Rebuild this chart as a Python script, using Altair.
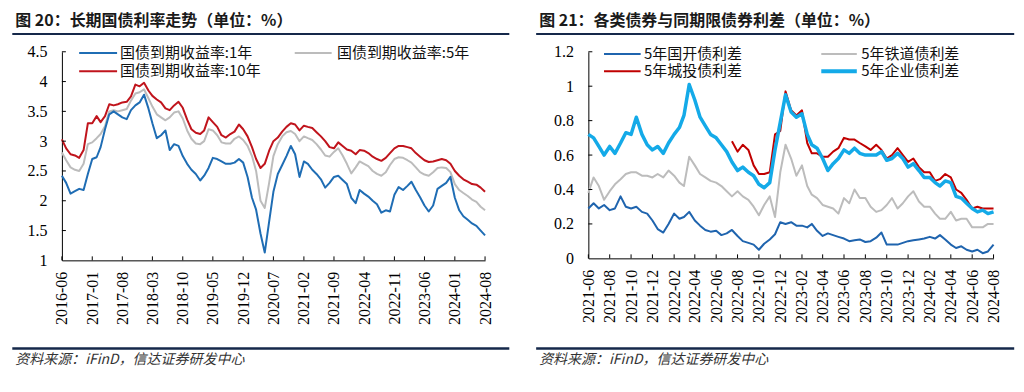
import altair as alt
import pandas as pd

NUM_FONT = "Liberation Serif"
CJK_FONT = "Noto Sans CJK SC"

# ---------------- Left panel: monthly, 2016-06 .. 2024-08 ----------------
gz_1y = [2.42, 2.30, 2.12, 2.16, 2.20, 2.18, 2.45, 2.70, 2.73, 2.90,
         3.20, 3.45, 3.50, 3.45, 3.40, 3.37, 3.52, 3.60, 3.65, 3.78,
         3.55, 3.30, 3.05, 3.10, 3.18, 2.85, 2.95, 2.92, 2.75, 2.62,
         2.52, 2.45, 2.34, 2.42, 2.55, 2.72, 2.70, 2.66, 2.62, 2.62,
         2.64, 2.70, 2.64, 2.40, 2.05, 1.85, 1.45, 1.13, 1.65, 2.15,
         2.45, 2.60, 2.75, 2.92, 2.78, 2.40, 2.66, 2.62, 2.52, 2.45,
         2.36, 2.22, 2.30, 2.40, 2.42, 2.35, 2.28, 2.05, 1.96, 2.18,
         2.12, 2.07, 2.00, 1.94, 1.80, 1.84, 1.82, 2.10, 2.23, 2.18,
         2.25, 2.32, 2.18, 2.06, 1.92, 1.82, 1.92, 2.20, 2.25, 2.30,
         2.40, 2.05, 1.84, 1.74, 1.68, 1.62, 1.58, 1.50, 1.42]
gz_5y = [2.81, 2.68, 2.56, 2.52, 2.50, 2.62, 2.95, 2.98, 3.05, 3.12,
         3.25, 3.50, 3.52, 3.50, 3.52, 3.54, 3.68, 3.80, 3.82, 3.87,
         3.72, 3.58, 3.45, 3.40, 3.35, 3.40, 3.48, 3.50, 3.38, 3.18,
         3.04, 2.96, 2.95, 3.00, 3.20, 3.18, 3.10, 2.98, 2.96, 2.96,
         3.04, 3.08, 3.02, 2.92, 2.75, 2.50, 2.00, 1.88, 2.30, 2.75,
         2.95, 3.08, 3.15, 3.17, 3.12, 3.00, 3.08, 3.05, 3.02, 2.95,
         2.86, 2.76, 2.74, 2.82, 2.88, 2.76, 2.62, 2.46, 2.56, 2.66,
         2.62, 2.58, 2.50, 2.45, 2.42, 2.48, 2.60, 2.70, 2.73, 2.72,
         2.68, 2.64, 2.56, 2.48, 2.44, 2.42, 2.48, 2.55, 2.56, 2.55,
         2.48, 2.28, 2.18, 2.13, 2.08, 2.02, 1.98, 1.90, 1.84]
gz_10y = [3.03, 2.88, 2.78, 2.76, 2.72, 2.85, 3.30, 3.30, 3.42, 3.32,
          3.42, 3.62, 3.60, 3.62, 3.65, 3.66, 3.75, 3.95, 3.92, 3.98,
          3.85, 3.76, 3.70, 3.65, 3.55, 3.52, 3.60, 3.66, 3.56, 3.36,
          3.20, 3.14, 3.12, 3.18, 3.40, 3.32, 3.24, 3.10, 3.06, 3.12,
          3.16, 3.28, 3.20, 3.08, 2.90, 2.70, 2.55, 2.62, 2.84, 3.00,
          3.06, 3.16, 3.24, 3.30, 3.28, 3.18, 3.26, 3.24, 3.22, 3.15,
          3.08, 3.00, 2.90, 2.88, 2.98, 2.92, 2.86, 2.84, 2.78, 2.85,
          2.84, 2.80, 2.74, 2.70, 2.67, 2.72, 2.80, 2.88, 2.92, 2.92,
          2.90, 2.88, 2.80, 2.74, 2.68, 2.65, 2.66, 2.68, 2.70, 2.68,
          2.62, 2.50, 2.42, 2.36, 2.32, 2.28, 2.27, 2.22, 2.15]
left_names = ["国债到期收益率:1年", "国债到期收益率:5年", "国债到期收益率:10年"]
left_xticks = ["2016-06", "2017-01", "2017-08", "2018-03", "2018-10", "2019-05",
               "2019-12", "2020-07", "2021-02", "2021-09", "2022-04", "2022-11",
               "2023-06", "2024-01", "2024-08"]
left_yticks = [1, 1.5, 2, 2.5, 3, 3.5, 4, 4.5]

# ---------------- Right panel: semi-monthly, 2021-06 .. 2024-08 ----------------
sp_gk = [0.29, 0.32, 0.29, 0.31, 0.28, 0.29, 0.36, 0.30, 0.29, 0.30,
         0.27, 0.26, 0.22, 0.17, 0.15, 0.20, 0.26, 0.23, 0.24, 0.27,
         0.22, 0.19, 0.165, 0.155, 0.16, 0.135, 0.145, 0.165, 0.13, 0.10,
         0.09, 0.08, 0.05, 0.085, 0.11, 0.14, 0.21, 0.20, 0.21, 0.19,
         0.19, 0.18, 0.20, 0.16, 0.13, 0.145, 0.135, 0.125, 0.115, 0.10,
         0.105, 0.11, 0.095, 0.10, 0.12, 0.15, 0.08, 0.08, 0.08, 0.09,
         0.10, 0.105, 0.11, 0.115, 0.125, 0.115, 0.135, 0.11, 0.08, 0.06,
         0.07, 0.05, 0.04, 0.05, 0.03, 0.04, 0.08]
sp_td = [0.38, 0.47, 0.42, 0.34, 0.39, 0.43, 0.46, 0.49, 0.50, 0.50,
         0.48, 0.48, 0.47, 0.49, 0.47, 0.51, 0.48, 0.44, 0.42, 0.59,
         0.54, 0.49, 0.47, 0.45, 0.44, 0.42, 0.39, 0.36, 0.39, 0.36,
         0.34, 0.30, 0.25, 0.31, 0.36, 0.24, 0.50, 0.66, 0.58, 0.48,
         0.54, 0.42, 0.37, 0.35, 0.31, 0.30, 0.29, 0.26, 0.35, 0.32,
         0.40, 0.35, 0.35, 0.30, 0.27, 0.28, 0.31, 0.35, 0.29, 0.32,
         0.36, 0.39, 0.33, 0.30, 0.30, 0.26, 0.23, 0.23, 0.27, 0.22,
         0.23, 0.23, 0.18, 0.18, 0.18, 0.20, 0.20]
sp_ct = [None] * 27 + [
         0.68, 0.62, 0.66,
         0.63, 0.54, 0.49, 0.49, 0.50, 0.72, 0.74, 0.97, 0.86, 0.83,
         0.86, 0.67, 0.61, 0.61, 0.59, 0.59, 0.62, 0.64, 0.70, 0.69,
         0.69, 0.67, 0.65, 0.63, 0.66, 0.63, 0.58, 0.60, 0.64, 0.60,
         0.56, 0.58, 0.53, 0.50, 0.50, 0.45, 0.46, 0.49, 0.47, 0.40,
         0.38, 0.34, 0.29, 0.30, 0.29, 0.29, 0.29]
sp_qy = [0.72, 0.70, 0.65, 0.60, 0.65, 0.61, 0.67, 0.73, 0.72, 0.82,
         0.72, 0.66, 0.63, 0.65, 0.61, 0.67, 0.72, 0.76, 0.83, 1.01,
         0.92, 0.82, 0.77, 0.72, 0.70, 0.66, 0.62, 0.56, 0.51, 0.53,
         0.50, 0.48, 0.43, 0.41, 0.44, 0.63, 0.79, 0.95, 0.85, 0.82,
         0.84, 0.72, 0.66, 0.64, 0.58, 0.51, 0.55, 0.58, 0.63, 0.61,
         0.64, 0.61, 0.60, 0.60, 0.60, 0.62, 0.57, 0.58, 0.61, 0.58,
         0.53, 0.55, 0.51, 0.47, 0.47, 0.44, 0.42, 0.45, 0.44, 0.36,
         0.35, 0.32, 0.29, 0.27, 0.28, 0.26, 0.27]
right_names = ["5年国开债利差", "5年铁道债利差", "5年城投债利差", "5年企业债利差"]
right_xticks = ["2021-06", "2021-08", "2021-10", "2021-12", "2022-02", "2022-04",
                "2022-06", "2022-08", "2022-10", "2022-12", "2023-02", "2023-04",
                "2023-06", "2023-08", "2023-10", "2023-12", "2024-02", "2024-04",
                "2024-06", "2024-08"]
right_yticks = [0, 0.2, 0.4, 0.6, 0.8, 1.0, 1.2]

title_left = "图 20：长期国债利率走势（单位：%）"
title_right = "图 21：各类债券与同期限债券利差（单位：%）"
source_text = "资料来源：iFinD，信达证券研发中心"


def month_dates(y, m, n, days=(1,)):
    out = []
    for i in range(n):
        yy = y + (m - 1 + i) // 12
        mm = (m - 1 + i) % 12 + 1
        for d in days:
            out.append(f"{yy:04d}/{mm:02d}/{d:02d}")
    return out


def slash(ym):
    return ym.replace("-", "/") + "/01"


def dt(ym):
    y, m = ym.split("-")
    return alt.DateTime(year=int(y), month=int(m), date=1)


left_dates = month_dates(2016, 6, 99)
right_dates = month_dates(2021, 6, 38, days=(1, 16)) + ["2024/08/01"]

df_left = pd.DataFrame({"date": left_dates, "y1": gz_1y, "y5": gz_5y, "y10": gz_10y})
df_right = pd.DataFrame({"date": right_dates, "gk": sp_gk, "td": sp_td,
                         "ct": sp_ct, "qy": sp_qy})

BLUE = "#1f6db4"
GREY = "#bcbcbc"
RED = "#c0141c"
DKBLUE = "#1f64ae"
LTBLUE = "#14aae8"
RED2 = "#c00000"
NAVY = "#15284a"

one = pd.DataFrame({"k": [0]})


def hline(x1, x2, y, color, sw):
    return alt.Chart(one).mark_rule(color=color, strokeWidth=sw).encode(
        x=alt.value(x1), x2=alt.value(x2), y=alt.value(y))


def label(x, y, txt, **kw):
    return alt.Chart(one).mark_text(align="left", baseline="middle", **kw).encode(
        x=alt.value(x), y=alt.value(y), text=alt.value(txt))


def axis_x(ticks):
    return alt.Axis(values=[dt(t) for t in ticks], format="%Y-%m", labelAngle=270,
                    labelFont=NUM_FONT, labelFontSize=16, labelColor="black",
                    labelPadding=11, ticks=False, tickSize=0, grid=False,
                    domainColor="black", domainWidth=1, labelFlush=False,
                    labelOverlap=False, labelBound=False, title=None)


def axis_y(ticks):
    return alt.Axis(values=ticks, format="~g", labelFont=NUM_FONT, labelFontSize=16,
                    labelColor="black", labelPadding=15, ticks=False, tickSize=0,
                    grid=False, domainColor="black", domainWidth=1, labelFlush=False,
                    title=None)


def panel(df, series, xticks, yticks, ydom, width, height, title, legend, leg_pos,
          title_xy, rule_x, foot_y, src_xy):
    xdom = [dt(xticks[0]), dt(xticks[-1])]
    xsc = alt.Scale(domain=xdom, nice=False)
    ysc = alt.Scale(domain=ydom, nice=False, zero=False)
    ax_x = axis_x(xticks)
    ax_y = axis_y(yticks)
    layers = []
    for field, color, sw in series:
        enc = dict(x=alt.X("date:T", scale=xsc, axis=ax_x, title=None),
                   y=alt.Y(f"{field}:Q", scale=ysc, axis=ax_y, title=None))
        layers.append(alt.Chart(df).mark_line(color=color, strokeWidth=sw,
                                              strokeJoin="round").encode(**enc))
    # inward tick marks through the shared scales
    xt = pd.DataFrame({"date": [slash(t) for t in xticks]})
    layers.append(alt.Chart(xt).mark_rule(color="black", strokeWidth=1).encode(
        x=alt.X("date:T", scale=xsc, axis=ax_x, title=None),
        y=alt.value(height), y2=alt.value(height - 4)))
    yt = pd.DataFrame({"v": yticks[1:]})
    layers.append(alt.Chart(yt).mark_rule(color="black", strokeWidth=1).encode(
        y=alt.Y("v:Q", scale=ysc, axis=ax_y, title=None),
        x=alt.value(0), x2=alt.value(4)))
    # legend
    for i, (name, color, sw) in enumerate(legend):
        col, row = i % 2, i // 2
        sx1, sx2, tx = leg_pos["cols"][col]
        yy = leg_pos["rows"][row]
        layers.append(hline(sx1, sx2, yy, color, sw))
        layers.append(label(tx, yy, name, font=CJK_FONT, fontSize=15, color="#111111"))
    # title, rules, source
    layers.append(label(title_xy[0], title_xy[1], title, font=CJK_FONT, fontSize=16,
                        fontWeight="bold", color="#1a1a1a"))
    layers.append(hline(rule_x[0], rule_x[1], title_xy[1] + 13.5, NAVY, 2))
    layers.append(hline(rule_x[0], rule_x[1], foot_y, NAVY, 2.5))
    layers.append(label(src_xy[0], src_xy[1], source_text, font=CJK_FONT, fontSize=14,
                        fontStyle="italic", color="#333333"))
    return alt.layer(*layers).properties(width=width, height=height)


left = panel(
    df_left,
    [("y5", GREY, 2), ("y10", RED, 2), ("y1", BLUE, 2)],
    left_xticks, left_yticks, [1, 4.5], 424, 209, title_left,
    [(left_names[0], BLUE, 2), (left_names[1], GREY, 2), (left_names[2], RED, 2)],
    {"cols": [(17.3, 55.3, 58.3), (233.3, 270.3, 275.6)], "rows": [1.2, 19.5]},
    (-46.7, -31.2), (-49.7, 448.3), 297.2, (-46.7, 308.5))

right = panel(
    df_right,
    [("gk", DKBLUE, 2), ("td", GREY, 2), ("ct", RED2, 2), ("qy", LTBLUE, 3.5)],
    right_xticks, right_yticks, [0, 1.2], 406, 207, title_right,
    [(right_names[0], DKBLUE, 2), (right_names[1], GREY, 2),
     (right_names[2], RED2, 2), (right_names[3], LTBLUE, 4)],
    {"cols": [(15.7, 52.4, 55.7), (233.4, 269.0, 273.4)], "rows": [2.2, 19.5]},
    (-49.3, -31.2), (-52.3, 426.7), 297.2, (-49.3, 308.5))

chart = alt.hconcat(left, right, spacing=103.5, bounds="flush").properties(
    padding={"left": 3, "top": 3.5, "right": 0, "bottom": 0}
).configure_view(stroke=None)

chart.save("out.html", embed_options={"renderer": "svg", "actions": False})
